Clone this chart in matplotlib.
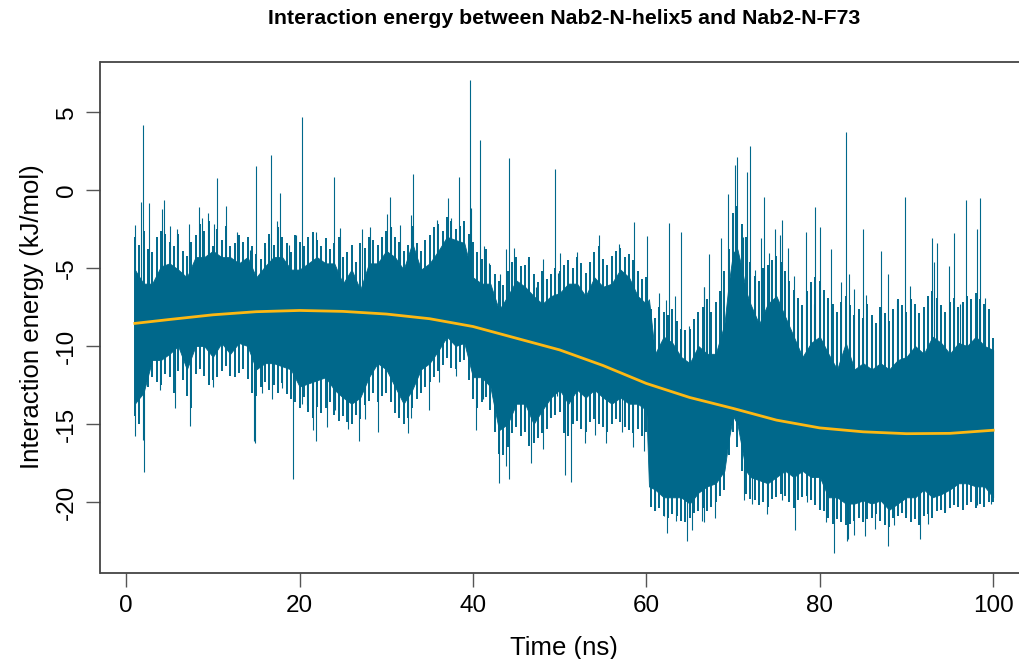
import matplotlib.pyplot as plt
import numpy as np

plt.rcParams['font.family'] = ['Liberation Sans', 'DejaVu Sans']

# dense part of the energy trace: upper / lower edge of the band
core_t = [1, 2, 3, 4, 5, 6, 7, 8, 9, 10, 11, 12, 13, 14, 15, 16, 17, 18, 19, 20,
          21, 22, 23, 24, 25, 26, 27, 28, 29, 30, 31, 32, 33, 34, 35, 36, 37, 38, 39, 40,
          41, 42, 43, 44, 45, 46, 47, 48, 49, 50, 51, 52, 53, 54, 55, 56, 57, 58, 59, 60,
          60.3, 61, 62, 63, 64, 65, 66, 67, 68, 69, 69.5, 70, 70.5, 71, 71.5, 72, 73, 74, 75, 76,
          77, 78, 79, 80, 81, 82, 83, 84, 85, 86, 87, 88, 89, 90, 91, 92, 93, 94, 95, 96, 97, 98, 99, 100]
core_hi = [-5.1, -6.0, -6.0, -4.9, -4.7, -5.1, -5.6, -4.3, -4.3, -3.9, -4.3, -4.3, -4.7, -4.3, -5.6, -4.9, -4.3, -4.3, -5.1, -5.1,
           -4.7, -4.3, -4.7, -4.7, -6.0, -5.1, -6.4, -4.7, -4.7, -3.9, -4.3, -5.1, -3.4, -5.1, -4.7, -3.9, -3.0, -3.2, -3.4, -5.6,
           -6.0, -6.0, -7.7, -6.8, -5.8, -6.2, -6.8, -7.3, -6.8, -6.6, -6.0, -6.0, -6.8, -5.6, -6.2, -6.0, -5.1, -5.6, -6.8, -7.3,
           -7.0, -10.5, -9.4, -9.8, -10.7, -11.1, -10.0, -10.5, -10.5, -8.6, -6.0, -4.0, -3.8, -5.0, -6.5, -7.3, -8.6, -7.3, -6.8, -8.1,
           -9.4, -10.7, -9.8, -9.4, -10.5, -11.5, -9.8, -11.5, -11.1, -11.5, -11.1, -11.5, -10.9, -10.7, -10.0, -10.5, -9.4, -9.8, -10.5, -9.8,
           -10.0, -9.4, -10.0, -10.25]
core_lo = [-13.7, -13.0, -10.9, -10.9, -10.5, -10.0, -11.5, -10.0, -10.0, -10.7, -9.8, -10.5, -9.8, -10.0, -11.5, -11.1, -11.1, -11.3, -11.5, -12.6,
           -12.4, -12.2, -12.0, -12.8, -13.3, -13.7, -13.3, -12.0, -11.1, -11.5, -12.6, -13.7, -12.8, -11.5, -11.1, -10.3, -9.4, -10.0, -9.8, -12.0,
           -12.0, -12.6, -15.4, -15.0, -13.7, -13.7, -15.0, -14.1, -13.3, -12.8, -13.7, -12.8, -13.3, -12.8, -13.3, -13.7, -13.3, -13.7, -13.7, -14.1,
           -19.0, -19.2, -19.7, -19.7, -19.7, -20.1, -19.4, -19.0, -18.8, -18.0, -16.0, -14.5, -15.0, -16.5, -18.0, -18.4, -18.6, -18.8, -18.4, -18.0,
           -18.4, -18.0, -18.4, -18.4, -19.7, -19.7, -20.1, -20.1, -19.9, -20.1, -19.9, -20.5, -20.1, -19.7, -19.7, -19.2, -19.7, -19.5, -19.2, -18.8,
           -18.8, -19.0, -19.0, -19.7]

# reach of the frequent fluctuations every 0.5 ns (1.0 ... 100.0)
hair_t = np.arange(1.0, 100.01, 0.5)
hair_hi = [-3.0, -3.5, -2.6, -3.8, -4.0, -3.0, -2.6, -2.8, -3.3, -3.6, -2.8, -3.9, -4.2, -3.3, -2.9, -2.2, -2.6, -2.0, -3.6, -2.5,
           -3.2, -2.3, -3.6, -3.4, -2.9, -3.3, -3.0, -3.6, -4.1, -4.4, -3.4,
           -2.8, -3.5, -2.4, -3.0, -3.4, -4.0, -2.9, -3.3, -3.6, -3.0, -2.7, -3.2, -3.6, -3.1, -3.8, -3.4, -3.0, -4.3, -4.0, -3.5,
           -4.6, -3.4, -3.7, -3.0, -3.2, -3.5, -3.0, -2.6, -2.4, -3.0, -3.3, -3.9, -3.5, -2.3,
           -3.4, -3.9, -3.2, -2.9, -2.4, -2.2, -2.6, -1.7, -2.0, -2.5, -2.3, -2.0, -2.8, -3.3, -4.0, -4.4, -3.8, -4.8, -5.4, -5.8,
           -6.1, -5.2, -4.6, -4.3, -4.9, -4.8, -4.3, -5.4, -5.9, -5.2, -5.7, -5.4, -5.0, -5.2,
           -4.8, -4.5, -5.0, -4.3, -4.7, -5.3, -4.6, -4.0, -3.6, -4.4, -4.8, -4.2, -3.9, -3.7, -4.3, -4.1, -4.5, -5.2, -5.7, -5.6,
           -7.6, -8.2, -7.5, -7.8, -8.0, -7.6, -8.4, -8.9, -9.0, -8.9, -8.3, -7.8,
           -7.5, -7.0, -7.8, -7.2, -6.5, -5.2, -3.8, -1.5, -1.0, -2.2, -3.0, -4.6, -5.5, -5.8, -5.0, -4.8, -4.5, -4.2, -4.6, -5.2,
           -5.8, -6.4, -6.9, -7.4, -6.5, -5.9, -5.6, -5.8, -6.4, -6.9, -7.3, -7.8, -7.2, -6.8,
           -7.4, -8.0, -7.6, -8.2, -7.3, -8.0, -8.5, -7.5, -7.9, -8.4, -7.6, -7.0, -7.4, -7.8, -7.0, -7.3, -7.9, -7.5, -6.8, -6.5,
           -6.9, -7.4, -7.8, -7.2, -6.9, -7.5, -7.2, -6.8, -7.0, -6.6, -7.0, -7.3, -7.6, -9.5]
hair_lo = [-14.5, -15.0, -14.0, -12.6, -12.0, -12.3, -12.5, -11.8, -12.0, -13.0, -11.6, -12.2, -13.2, -14.0, -11.8, -11.5, -11.9, -12.5, -12.2, -12.0,
           -11.6, -11.3, -11.9, -12.0, -11.7, -11.5, -12.1, -13.0, -13.2, -12.6, -12.3,
           -12.8, -12.5, -13.0, -12.4, -13.1, -13.4, -13.6, -14.0, -13.3, -14.2, -14.6, -13.9, -14.3, -14.0, -13.6, -14.4, -14.8, -14.5, -14.9, -15.0,
           -14.4, -14.7, -13.8, -13.5, -13.0, -13.6, -13.2, -13.0, -13.6, -14.3, -14.6, -15.0, -14.6, -14.0,
           -13.4, -13.0, -12.6, -12.3, -12.0, -11.6, -11.2, -10.8, -11.4, -11.5, -11.0, -10.9, -12.2, -13.4, -14.0, -13.6, -13.3, -14.1, -15.5, -16.9,
           -17.0, -16.5, -15.6, -15.2, -15.8, -15.5, -16.4, -16.2, -15.9, -15.6, -15.3, -14.6, -14.4, -14.2,
           -15.6, -15.8, -15.0, -14.8, -15.3, -15.5, -14.9, -14.7, -15.0, -15.2, -15.5, -15.0, -14.7, -14.9, -15.2, -15.4, -15.6, -15.3, -15.8, -15.5,
           -20.3, -20.6, -20.4, -20.9, -21.0, -20.8, -20.9, -21.2, -21.3, -21.0, -20.7, -20.6,
           -20.4, -20.6, -20.3, -20.0, -19.6, -19.2, -17.0, -15.5, -16.5, -18.0, -19.5, -19.8, -19.9, -20.2, -20.0, -20.3, -19.8, -19.7, -19.5, -19.6,
           -20.0, -20.4, -19.9, -19.7, -19.6, -19.9, -20.2, -20.5, -20.6, -21.0, -21.4, -21.1, -21.3, -21.5,
           -21.4, -21.2, -21.0, -21.3, -21.1, -21.0, -20.8, -21.2, -21.5, -21.6, -21.0, -20.9, -20.7, -21.0, -21.3, -21.1, -21.5, -20.9, -20.8, -21.0,
           -20.6, -20.5, -20.7, -20.4, -20.2, -20.3, -20.5, -20.2, -20.0, -20.4, -20.1, -20.3, -20.0, -20.0]

# isolated excursions above and below the band (time ns, energy kJ/mol)
peaks_t = [1.0, 1.7, 1.9, 2.6, 4.15, 4.4, 5.0, 5.9, 7.3, 8.4, 8.8, 9.4, 10.1, 10.5, 11.5, 12.8, 14.3, 15.0, 16.0, 16.5,
           16.7, 17.4, 17.7, 18.8, 19.6, 20.3, 21.9, 24.0, 24.7, 27.2, 28.1, 30.1, 30.4, 30.6, 31.6, 32.9, 33.1, 35.9, 37.1, 37.5,
           38.4, 39.7, 39.8, 40.8, 41.3, 41.8, 43.1, 43.8, 44.1, 44.7, 46.3, 47.3, 48.1, 49.5, 49.8, 50.0, 52.0, 54.5, 56.9, 58.6,
           60.1, 61.5, 62.3, 62.6, 63.3, 64.0, 64.9, 66.6, 66.7, 67.2, 68.6, 69.4, 70.2, 70.4, 71.1, 71.6, 71.9, 72.5, 73.2, 73.6,
           74.1, 74.8, 75.4, 75.7, 76.3, 77.0, 78.4, 79.3, 79.5, 80.0, 81.3, 82.4, 83.0, 83.4, 83.9, 85.0, 85.3, 87.1, 87.9, 88.9,
           89.8, 90.4, 92.9, 93.2, 93.5, 94.9, 95.5, 96.2, 96.85, 98.1, 98.5, 99.1]
peaks_e = [-2.25, -0.75, 4.17, -0.85, -1.2, -0.64, -2.3, -2.5, -2.2, -1.1, -1.8, -1.5, -2.2, 0.75, -1.0, -2.7, -3.85, 1.54, -3.7, -3.1,
           2.24, -2.0, -0.22, -3.5, -2.9, 4.66, -2.67, 0.81, -2.46, -2.5, -2.35, -1.54, -0.47, -2.35, -2.25, -1.6, 1.02, -1.9, -0.54, -1.8,
           0.85, 7.05, -1.18, 3.2, -3.6, -4.66, -5.4, -3.8, 2.03, -3.7, -4.45, -6.2, -4.4, 1.32, -5.3, -4.06, -4.0, -2.9, -3.46, -2.03,
           -2.95, -6.6, -7.05, -2.14, -6.8, -2.7, -8.7, -6.2, -6.24, -4.1, -3.1, -0.26, 1.6, 2.09, -3.0, 1.17, 2.82, -5.1, -3.1, -0.47,
           -4.06, -2.5, -2.9, -1.9, -3.7, -5.5, -2.67, -7.3, -1.07, -2.4, -3.8, -5.9, 3.7, -5.4, -6.35, -2.5, -6.75, -3.9, -5.4, -7.05,
           -0.47, -6.15, -3.06, -4.6, -3.4, -4.9, -2.78, -7.3, -0.64, -2.5, -0.54, -6.9]
dips_t = [1.0, 1.9, 2.1, 3.9, 5.6, 7.4, 10.0, 14.8, 14.9, 15.7, 16.8, 18.0, 19.2, 20.3, 20.9, 21.6, 21.9, 23.2, 24.1, 25.6,
          26.9, 27.6, 29.1, 31.5, 32.5, 32.9, 34.9, 36.1, 38.0, 40.3, 41.1, 43.0, 43.8, 44.1, 45.9, 46.7, 48.1, 48.9, 49.7, 50.6,
          51.3, 52.9, 54.1, 55.4, 57.2, 58.5, 59.7, 61.0, 62.0, 62.4, 63.4, 64.7, 65.3, 66.4, 66.6, 67.9, 71.3, 72.2, 73.9, 75.7,
          77.2, 78.5, 80.7, 81.6, 83.1, 83.2, 84.0, 85.2, 86.4, 87.9, 88.6, 89.9, 91.6, 92.5, 94.5, 98.1, 99.8]
dips_e = [-15.8, -16.0, -18.06, -12.8, -14.0, -15.1, -12.6, -16.1, -16.2, -13.0, -13.4, -12.7, -18.5, -13.7, -13.8, -15.4, -16.1, -15.2, -14.1, -15.3,
          -16.1, -14.7, -15.5, -13.9, -15.6, -14.6, -14.1, -12.3, -11.9, -15.4, -13.4, -18.8, -17.7, -18.5, -15.3, -17.5, -16.6, -14.5, -13.2, -18.3,
          -18.7, -16.2, -15.7, -16.2, -15.5, -16.5, -16.7, -20.5, -20.9, -22.0, -21.2, -22.5, -21.8, -21.2, -21.3, -21.05, -19.9, -20.1, -20.8, -19.9,
          -21.8, -20.0, -21.3, -23.3, -22.5, -22.4, -22.1, -22.2, -21.7, -22.8, -21.5, -20.7, -22.4, -21.4, -20.6, -20.2, -20.1]

# smoothed trend (loess)
fit_t = [1, 5, 10, 15, 20, 25, 30, 35, 40, 45, 50, 55, 60, 65, 70, 75, 80, 85, 90, 95, 100]
fit_e = [-8.55, -8.3, -8.0, -7.8, -7.72, -7.78, -7.95, -8.25, -8.75, -9.5, -10.25, -11.25, -12.4, -13.3,
         -14.0, -14.75, -15.25, -15.5, -15.62, -15.6, -15.4]

blue = '#00688B'
gold = '#FDB813'

fig = plt.figure(figsize=(10.2, 6.59), dpi=100)
ax = fig.add_axes([100.5 / 1020, 86.5 / 659, 927 / 1020, 511 / 659])

ax.fill_between(core_t, core_lo, core_hi, color=blue, lw=0.6, edgecolor=blue)
mid = (np.array(core_hi) + np.array(core_lo)) / 2
ax.vlines(hair_t, np.interp(hair_t, core_t, mid), hair_hi, color=blue, lw=1.4)
ax.vlines(hair_t, np.interp(hair_t, core_t, mid), hair_lo, color=blue, lw=1.4)
ax.vlines(peaks_t, np.interp(peaks_t, core_t, mid), peaks_e, color=blue, lw=0.8)
ax.vlines(dips_t, np.interp(dips_t, core_t, mid), dips_e, color=blue, lw=0.8)
ax.plot(fit_t, fit_e, color=gold, lw=2)

ax.set_xlim(-2.96, 103.96)
ax.set_ylim(-24.52, 8.24)
ax.set_xticks([0, 20, 40, 60, 80, 100])
ax.set_yticks([5, 0, -5, -10, -15, -20])
ax.set_yticklabels(['5', '0', '-5', '-10', '-15', '-20'], rotation=90, va='center')
ax.tick_params(length=10, width=1, color='#555555', labelsize=17.5, pad=6)
for s in ax.spines.values():
    s.set_color('#444444')
    s.set_linewidth(1.3)

ax.set_xlabel('Time (ns)', fontsize=18.5, labelpad=14)
ax.set_ylabel('Interaction energy (kJ/mol)', fontsize=18.5, labelpad=9)
ax.set_title('Interaction energy between Nab2-N-helix5 and Nab2-N-F73',
             fontsize=15.3, fontweight='bold', pad=27)

fig.savefig('out.png', dpi=100)
